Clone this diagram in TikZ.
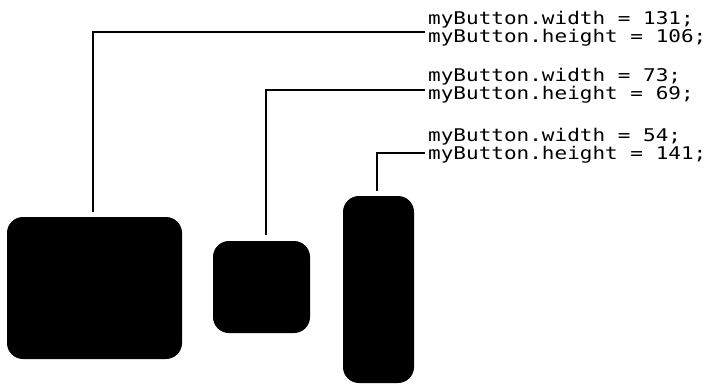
\documentclass[tikz,border=0pt]{standalone}
\usepackage{fontspec}
\usepackage{tikz}
\newfontfamily\codefont[FakeStretch=1.2]{DejaVu Sans Mono}
\usetikzlibrary{positioning}

\begin{document}
\begin{tikzpicture}[x=1pt,y=-1pt,
		btn/.style={fill=black,inner sep=0pt,rounded corners=16pt},
		code/.style={anchor=base west,inner sep=0pt,font=\codefont\fontsize{17.5pt}{19pt}\selectfont},
		lead/.style={line width=1.8pt}]
			\useasboundingbox (0,0) rectangle (707,383);
			\node[btn,minimum width=175pt,minimum height=142pt]  at (94.5,288)  (big)  {};
			\node[btn,minimum width=97pt,minimum height=92pt]   at (261.5,287) (mid)  {};
			\node[btn,minimum width=71pt,minimum height=187pt]  at (378.5,289.5) (tall) {};
			\node[code]  at (428,24.3)   (widA)  {myButton.width = 131;};
			\node[code]  at (428,42.7)   (hgtA)  {myButton.height = 106;};
			\node[code]  at (428,81.3)   (widB)  {myButton.width = 73;};
			\node[code]  at (428,99.7)   (hgtB)  {myButton.height = 69;};
			\node[code]  at (428,141.3)  (widC)  {myButton.width = 54;};
			\node[code]  at (428,159.7)  (hgtC)  {myButton.height = 141;};
			\draw[lead] ([shift={(-3pt,11pt)}]hgtA.base west) -| ([shift={(-1.5pt,5pt)}]big.north);
			\draw[lead] ([shift={(-3pt,9.5pt)}]hgtB.base west) -| ([shift={(4.5pt,6pt)}]mid.north);
			\draw[lead] ([shift={(-3pt,7pt)}]hgtC.base west) -| ([shift={(-1.5pt,5pt)}]tall.north);
		\end{tikzpicture}
\end{document}
